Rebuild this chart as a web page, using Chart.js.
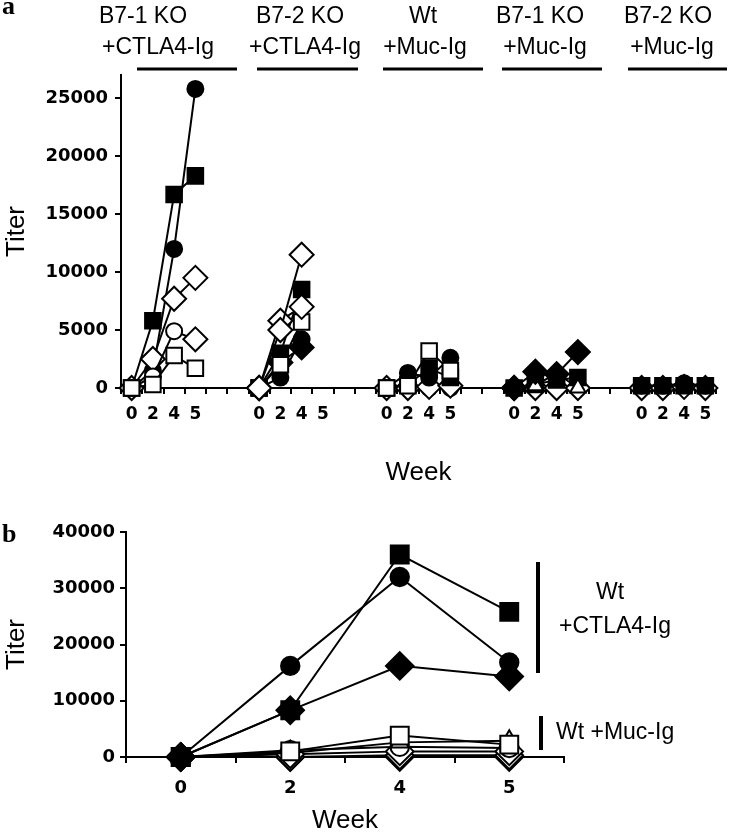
<!DOCTYPE html>
<html>
<head>
<meta charset="utf-8">
<script src="https://cdn.jsdelivr.net/npm/chart.js@4.4.1/dist/chart.umd.min.js"></script>
<style>
  body { margin: 0; background: #fff; }
  #wrapA { position: absolute; left: 0; top: 0; }
  #wrapB { position: absolute; left: 0; top: 490px; }
</style>
</head>
<body>
<div id="wrapA"><canvas id="chartA" width="730" height="490"></canvas></div>
<div id="wrapB"><canvas id="chartB" width="730" height="344"></canvas></div>
<script>
// weeks shown under every group
const weekLabels = ['0', '2', '4', '5'];
const groupNamesA = [
    ['B7-1 KO', '+CTLA4-Ig'],
    ['B7-2 KO', '+CTLA4-Ig'],
    ['Wt', '+Muc-Ig'],
    ['B7-1 KO', '+Muc-Ig'],
    ['B7-2 KO', '+Muc-Ig']
];
const yTicksA = [0, 5000, 10000, 15000, 20000, 25000];
const yTicksB = [0, 10000, 20000, 30000, 40000];

// panel a : B7-1 KO + CTLA4-Ig
const g1FilledSquare = [0, 5800, 16700, 18300];
const g1FilledCircle = [0, 1500, 12000, 25800];
const g1OpenDiamond = [0, 2500, 7700, 9500];
const g1OpenCircle = [0, 1000, 4900, 4200];
const g1OpenSquare = [0, 300, 2800, 1700];
// panel a : B7-2 KO + CTLA4-Ig (no week 5)
const g2OpenDiamondA = [0, 5000, 11500, null];
const g2FilledSquare = [0, 3000, 8500, null];
const g2OpenDiamondB = [0, 5800, 7000, null];
const g2OpenSquare = [0, 2000, 5700, null];
const g2FilledCircle = [0, 900, 4200, null];
const g2FilledDiamond = [0, 2200, 3500, null];
// panel a : Wt + Muc-Ig
const g3FilledSquare = [0, 300, 1700, 900];
const g3OpenSquare = [0, 200, 3200, 1500];
const g3FilledCircle = [0, 1300, 900, 2600];
const g3OpenDiamond = [0, 0, 100, 200];
const g3OpenCircle = [0, 300, 0, 0];
// panel a : B7-1 KO + Muc-Ig
const g4FilledDiamond = [0, 1400, 1200, 3100];
const g4FilledSquare = [0, 300, 700, 900];
const g4OpenTriangle = [0, 200, 1300, 0];
const g4OpenDiamond = [0, 0, 0, 0];
// panel a : B7-2 KO + Muc-Ig
const g5FilledSquare = [200, 200, 200, 200];
const g5FilledCircle = [200, 200, 400, 200];
const g5OpenDiamond = [0, 0, 100, 0];

// panel b : Wt + CTLA4-Ig
const bFilledSquare = [0, 8300, 36000, 25800];
const bFilledCircle = [0, 16200, 32000, 16800];
const bFilledDiamond = [0, 8300, 16200, 14300];
// panel b : Wt + Muc-Ig
const bOpenSquare = [0, 1000, 3800, 2200];
const bOpenTriangle = [0, 700, 2600, 2900];
const bOpenCircle = [0, 1200, 1800, 1600];
const bOpenDiamondA = [0, 500, 1000, 1000];
const bOpenDiamondB = [0, 0, 300, 300];
const bOpenDiamondC = [0, 0, 0, 0];

const SANS = '"Liberation Sans", Arial, sans-serif';
const TICKS = '"DejaVu Sans", sans-serif';

// marker looks
const markers = {
    fSq: { style: 'rect', r: 11, fill: '#000' },
    oSq: { style: 'rect', r: 11, fill: '#fff' },
    fCi: { style: 'circle', r: 8, fill: '#000' },
    oCi: { style: 'circle', r: 8, fill: '#fff' },
    fDi: { style: 'rectRot', r: 12, fill: '#000' },
    oDi: { style: 'rectRot', r: 12, fill: '#fff' },
    oTr: { style: 'triangle', r: 9, fill: '#fff' }
};

// 4 weeks + 2 empty slots between groups
const GROUP_STEP = 6;
const xLabelsA = [];
groupNamesA.forEach((g, i) => {
    xLabelsA.push(...weekLabels);
    if (i < groupNamesA.length - 1) xLabelsA.push('', '');
});

function placeInGroup(group, values) {
    const arr = new Array(xLabelsA.length).fill(null);
    values.forEach((v, i) => { arr[group * GROUP_STEP + i] = v; });
    return arr;
}

function makeDataset(data, key, scale) {
    const m = markers[key];
    return {
        data: data,
        borderColor: '#000',
        borderWidth: 2,
        pointStyle: m.style,
        pointRadius: m.r * scale,
        pointBackgroundColor: m.fill,
        pointBorderColor: '#000',
        pointBorderWidth: 2,
        fill: false,
        tension: 0,
        spanGaps: false,
        clip: false
    };
}

const seriesA = [
    [0, g1OpenSquare, 'oSq'], [0, g1OpenCircle, 'oCi'], [0, g1OpenDiamond, 'oDi'],
    [0, g1FilledCircle, 'fCi'], [0, g1FilledSquare, 'fSq'],
    [1, g2OpenDiamondA, 'oDi'], [1, g2OpenDiamondB, 'oDi'], [1, g2OpenSquare, 'oSq'],
    [1, g2FilledSquare, 'fSq'], [1, g2FilledCircle, 'fCi'], [1, g2FilledDiamond, 'fDi'],
    [2, g3OpenSquare, 'oSq'], [2, g3FilledCircle, 'fCi'], [2, g3FilledSquare, 'fSq'],
    [2, g3OpenDiamond, 'oDi'], [2, g3OpenCircle, 'oCi'],
    [3, g4FilledDiamond, 'fDi'], [3, g4OpenTriangle, 'oTr'], [3, g4FilledSquare, 'fSq'],
    [3, g4OpenDiamond, 'oDi'],
    [4, g5FilledCircle, 'fCi'], [4, g5FilledSquare, 'fSq'], [4, g5OpenDiamond, 'oDi']
];

const datasetsA = seriesA.map(([g, vals, key]) => makeDataset(placeInGroup(g, vals), key, 1));
// the week 5 point of this series is a diamond
const g1Mixed = datasetsA[1];
g1Mixed.pointStyle = xLabelsA.map((l, i) => i === 3 ? 'rectRot' : 'circle');
g1Mixed.pointRadius = xLabelsA.map((l, i) => i === 3 ? 12 : 8);

const seriesB = [
    [bFilledSquare, 'fSq'], [bFilledCircle, 'fCi'], [bFilledDiamond, 'fDi'],
    [bOpenSquare, 'oSq'], [bOpenTriangle, 'oTr'], [bOpenCircle, 'oCi'],
    [bOpenDiamondA, 'oDi'], [bOpenDiamondB, 'oDi'], [bOpenDiamondC, 'oDi']
];
const datasetsB = seriesB.map(([vals, key]) => makeDataset(vals, key, 1.15));

function axisX(titlePad, tickPad, height, tickSize) {
    return {
        type: 'category',
        offset: true,
        grid: { display: true, offset: true, drawOnChartArea: false, drawTicks: true, tickLength: 6, color: '#000', lineWidth: 2 },
        border: { display: true, color: '#000', width: 2 },
        ticks: { autoSkip: false, maxRotation: 0, minRotation: 0, padding: tickPad, color: '#000',
                 font: { family: TICKS, weight: 'bold', size: tickSize, lineHeight: 1 } },
        title: { display: true, text: 'Week', color: '#000', padding: { top: 0, bottom: titlePad },
                 font: { family: SANS, size: 26, lineHeight: 1 } },
        afterFit: s => { s.height = height; }
    };
}

function axisY(max, tickList, tickPad, width) {
    return {
        type: 'linear',
        min: 0,
        max: max,
        grid: { display: true, drawOnChartArea: false, drawTicks: true, tickLength: 6, color: '#000', lineWidth: 2 },
        border: { display: true, color: '#000', width: 2 },
        ticks: { padding: tickPad, color: '#000', callback: v => String(v),
                 font: { family: TICKS, weight: 'bold', size: 18, lineHeight: 1 } },
        afterBuildTicks: s => { s.ticks = tickList.map(v => ({ value: v })); },
        afterFit: s => { s.width = width; },
        title: { display: true, text: 'Titer', color: '#000', padding: { top: 4, bottom: 0 },
                 font: { family: SANS, size: 26, lineHeight: 1 } }
    };
}

// group names and bars above panel a
const groupLabelsPlugin = {
    id: 'groupLabels',
    afterDraw(chart) {
        const ctx = chart.ctx;
        const centers1 = [143, 300, 423, 540, 668];
        const centers2 = [158, 305, 425, 545, 672];
        const bars = [[137, 237], [257, 358], [383, 483], [502, 602], [628, 727]];
        ctx.save();
        ctx.fillStyle = '#000';
        ctx.strokeStyle = '#000';
        ctx.textAlign = 'center';
        ctx.textBaseline = 'middle';
        ctx.font = '23px ' + SANS;
        groupNamesA.forEach((names, i) => {
            ctx.fillText(names[0], centers1[i], 17);
            ctx.fillText(names[1], centers2[i], 48);
            ctx.lineWidth = 3;
            ctx.beginPath();
            ctx.moveTo(bars[i][0], 69);
            ctx.lineTo(bars[i][1], 69);
            ctx.stroke();
        });
        ctx.textAlign = 'left';
        ctx.textBaseline = 'alphabetic';
        ctx.font = 'bold 26px "Liberation Serif", serif';
        ctx.fillText('a', 2, 14);
        ctx.restore();
    }
};

// side brackets of panel b
const sideLabelsPlugin = {
    id: 'sideLabels',
    afterDraw(chart) {
        const ctx = chart.ctx;
        ctx.save();
        ctx.fillStyle = '#000';
        ctx.strokeStyle = '#000';
        ctx.lineWidth = 4;
        ctx.beginPath();
        ctx.moveTo(538, 72);
        ctx.lineTo(538, 183);
        ctx.moveTo(541, 226);
        ctx.lineTo(541, 260);
        ctx.stroke();
        ctx.font = '23px ' + SANS;
        ctx.textAlign = 'center';
        ctx.textBaseline = 'middle';
        ctx.fillText('Wt', 610, 103);
        ctx.fillText('+CTLA4-Ig', 615, 137);
        ctx.textAlign = 'left';
        ctx.fillText('Wt +Muc-Ig', 556, 243);
        ctx.textBaseline = 'alphabetic';
        ctx.font = 'bold 26px "Liberation Serif", serif';
        ctx.fillText('b', 2, 52);
        ctx.restore();
    }
};

const commonPlugins = { legend: { display: false }, tooltip: { enabled: false } };

new Chart(document.getElementById('chartA').getContext('2d'), {
    type: 'line',
    data: { labels: xLabelsA, datasets: datasetsA },
    options: {
        responsive: false,
        animation: false,
        layout: { padding: { top: 75, right: 12, bottom: 0, left: 0 } },
        scales: {
            x: axisX(4, 12, 102, 17),
            y: axisY(27000, yTicksA, 7, 121)
        },
        plugins: commonPlugins
    },
    plugins: [groupLabelsPlugin]
});

new Chart(document.getElementById('chartB').getContext('2d'), {
    type: 'line',
    data: { labels: weekLabels, datasets: datasetsB },
    options: {
        responsive: false,
        animation: false,
        layout: { padding: { top: 42, right: 166, bottom: 0, left: 0 } },
        scales: {
            x: axisX(0, 16, 77, 18),
            y: axisY(40000, yTicksB, 5, 126)
        },
        plugins: commonPlugins
    },
    plugins: [sideLabelsPlugin]
});
</script>
</body>
</html>
